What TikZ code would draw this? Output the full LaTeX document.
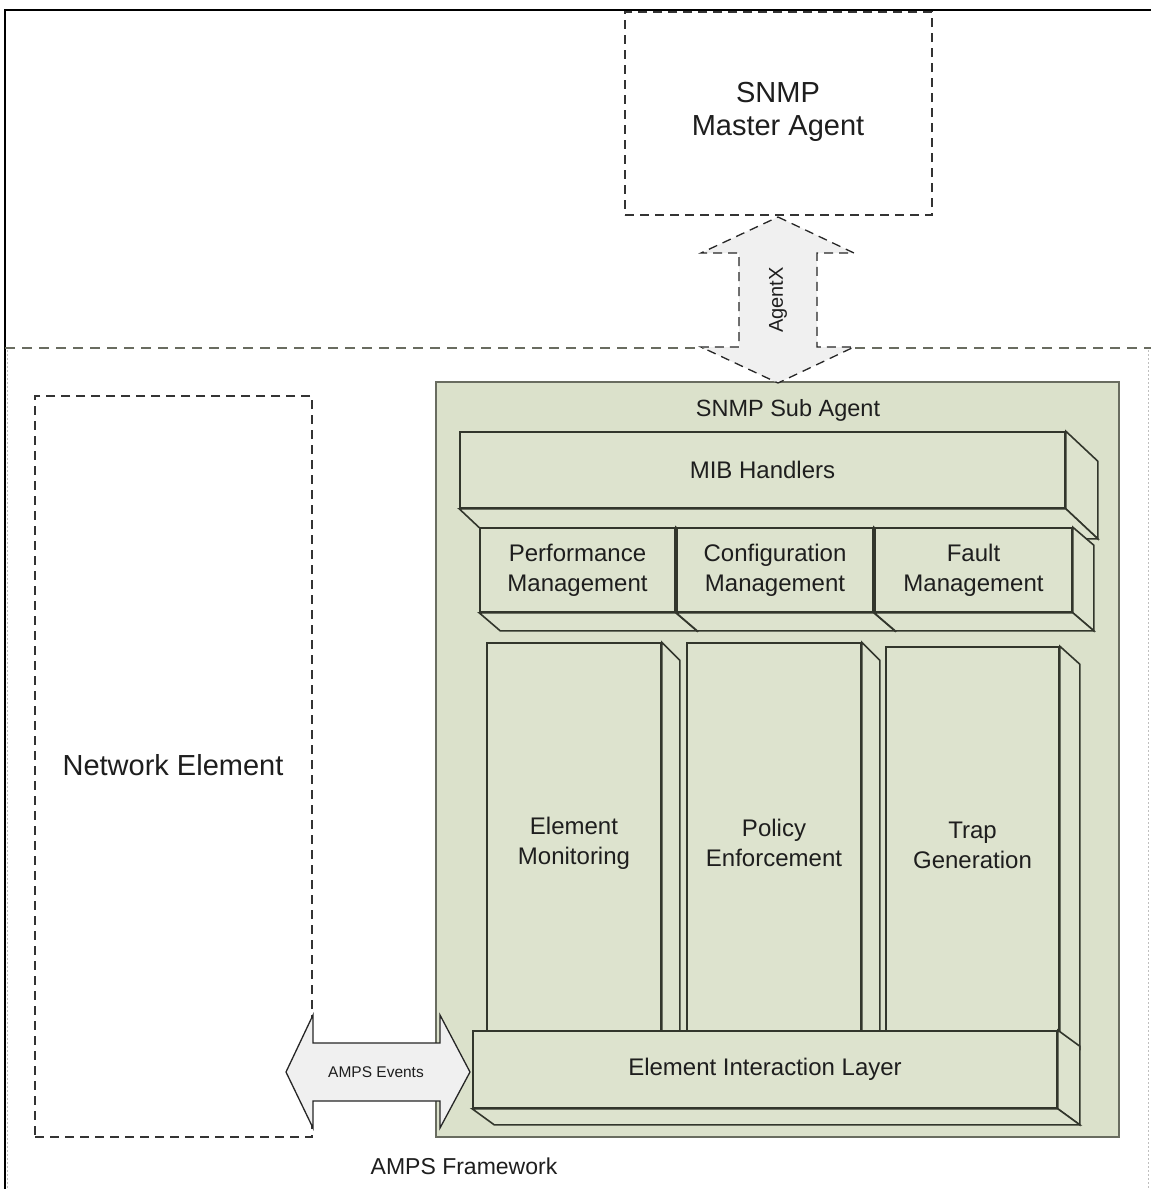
\documentclass[tikz,border=0pt]{standalone}
\usepackage{fontspec}
\setmainfont{Liberation Sans}
\usetikzlibrary{calc}
\definecolor{sage}{RGB}{219,225,203}
\definecolor{sageface}{RGB}{221,227,206}
\definecolor{edgedark}{RGB}{50,54,44}
\definecolor{frameg}{RGB}{105,108,96}
\definecolor{arrowfill}{RGB}{240,240,240}
\definecolor{txt}{RGB}{30,30,30}
\tikzset{
  face/.style={draw=edgedark, line width=1.6pt, fill=sageface, line join=miter},
  front/.style={face, rectangle, inner sep=0pt, text=txt, align=center,
    font=\fontsize{24}{30}\selectfont},
  dashbox/.style={draw=black!80, line width=1.4pt, dash pattern=on 9pt off 6pt},
  lbl/.style={text=txt, inner sep=0pt, align=center}
}
% 3D faces: #1 node name, #2 dx, #3 dy (y points downwards)
\newcommand\boxfaces[3]{%
  \path[face] (#1.north east) -- ++(#2,#3) -- ($(#1.south east)+(#2,#3)$) -- (#1.south east) -- cycle;
  \path[face] (#1.south west) -- (#1.south east) -- ($(#1.south east)+(#2,#3)$) -- ($(#1.south west)+(#2,#3)$) -- cycle;
}
% side face only, standing on the layer below; #4 = extra drop of the outer edge
\newcommand\colside[4]{%
  \path[face] (#1.north east) -- ++(#2,#3) -- ($(#1.south east)+(#2,#4)$) -- (#1.south east) -- cycle;
}
\begin{document}
\begin{tikzpicture}[x=1pt,y=-1pt]
\useasboundingbox (0,0) rectangle (1151,1189);
\fill[white] (0,0) rectangle (1151,1189);

% outer frame (top and left)
\draw[black, line width=2.2pt] (1151,10) -- (5,10) -- (5,1189);
% AMPS framework boundary
\draw[frameg, line width=1.4pt, dash pattern=on 10pt off 7pt] (5,348) -- (1151,348);
\draw[black!25, line width=0.8pt, dash pattern=on 2pt off 2pt] (7,350) -- (7,1189);
\draw[black!25, line width=0.8pt, dash pattern=on 2pt off 2pt] (1148,350) -- (1148,1189);

% SNMP master agent
\node[dashbox, minimum width=307pt, minimum height=203pt, inner sep=0pt] (master) at (778.5,113.5) {};
\node[lbl, font=\fontsize{29}{33}\selectfont] (mastertxt) at (778,112) {SNMP\\Master Agent};

% Network element
\node[dashbox, minimum width=277pt, minimum height=741pt, inner sep=0pt] (ne) at (173.5,766.5) {};
\node[lbl, font=\fontsize{29}{33}\selectfont] (netxt) at (173,765) {Network Element};

% SNMP sub agent container
\node[draw=frameg, line width=1.6pt, fill=sage, minimum width=683pt, minimum height=755pt, inner sep=0pt] (sub) at (777.5,759.5) {};
\node[lbl, font=\fontsize{23.5}{28}\selectfont] (subtxt) at (788,410) {SNMP Sub Agent};

% AgentX double arrow
\coordinate (axtop) at (778,217);
\coordinate (axbot) at (778,383);
\draw[fill=arrowfill, draw=black!85, line width=1.3pt, dash pattern=on 9pt off 6pt, line join=miter]
  (axtop) -- (854,253) -- (817,253) -- (817,347) -- (854,347) -- (axbot)
  -- (701,347) -- (739,347) -- (739,253) -- (701,253) -- cycle;
\node[lbl, rotate=90, font=\fontsize{20}{24}\selectfont] (axlbl) at (778,300) {AgentX};

% MIB handlers
\node[front, minimum width=605pt, minimum height=76pt] (mib) at (762.5,470) {MIB Handlers};
\boxfaces{mib}{32}{30}

% management boxes
\node[front, minimum width=195pt, minimum height=84pt] (perf) at (577.5,570) {Performance\\Management};
\boxfaces{perf}{21}{18}
\node[front, minimum width=196pt, minimum height=84pt] (conf) at (775,570) {Configuration\\Management};
\boxfaces{conf}{21}{18}
\node[front, minimum width=197pt, minimum height=84pt] (fault) at (973.5,570) {Fault\\Management};
\boxfaces{fault}{21}{18}

% vertical columns (standing on the element interaction layer, bottom y = 1031)
\node[front, minimum width=174pt, minimum height=388pt] (em) at (574,837) {};
\colside{em}{18}{18}{0}
\node[lbl, font=\fontsize{24}{30}\selectfont] (emtxt) at (574,843) {Element\\Monitoring};
\node[front, minimum width=174pt, minimum height=388pt] (pe) at (774,837) {};
\colside{pe}{18}{18}{0}
\node[lbl, font=\fontsize{24}{30}\selectfont] (petxt) at (774,843) {Policy\\Enforcement};
\node[front, minimum width=173pt, minimum height=384pt] (tg) at (972.5,839) {};
\colside{tg}{20}{18}{17}
\node[lbl, font=\fontsize{24}{30}\selectfont] (tgtxt) at (972.5,845) {Trap\\Generation};

% element interaction layer
\node[front, minimum width=584pt, minimum height=77pt] (eil) at (765,1069.5) {Element Interaction Layer};
\boxfaces{eil}{22}{16}

% AMPS events double arrow
\coordinate (aeleft) at (286,1072);
\coordinate (aeright) at (470,1072);
\draw[fill=arrowfill, draw=black!85, line width=1.3pt, line join=miter]
  (aeleft) -- (313,1015) -- (313,1043) -- (440,1043) -- (440,1015) -- (aeright)
  -- (440,1128) -- (440,1101) -- (313,1101) -- (313,1128) -- cycle;
\node[lbl, font=\fontsize{15.5}{18}\selectfont] (aelbl) at (376,1072) {AMPS Events};

% framework label
\node[lbl, font=\fontsize{23}{27}\selectfont] (fwlbl) at (464,1166) {AMPS Framework};
\end{tikzpicture}
\end{document}
